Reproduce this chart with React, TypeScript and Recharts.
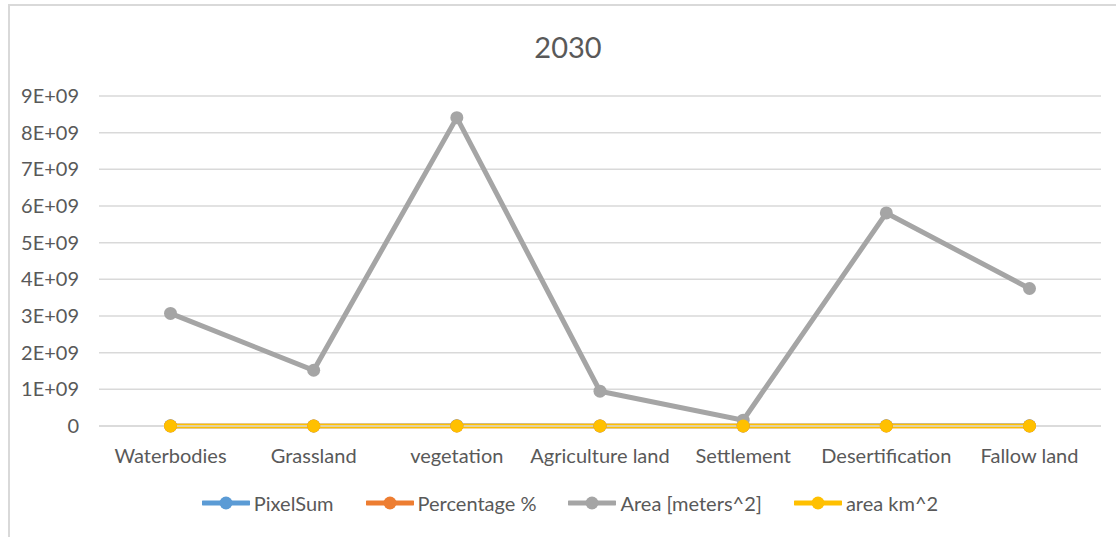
import React from "react";
import { LineChart, Line, XAxis, YAxis, CartesianGrid, Legend } from "recharts";

// Land-cover classes projected for 2030
const categories = [
  "Waterbodies",
  "Grassland",
  "vegetation",
  "Agriculture land",
  "Settlement",
  "Desertification",
  "Fallow land",
];

const pixelSum = [3411111, 1688889, 9344444, 1055556, 177778, 6455556, 4166667];
const percentage = [12.97, 6.42, 35.53, 4.01, 0.68, 24.55, 15.84];
const areaM2 = [3.07e9, 1.52e9, 8.41e9, 0.95e9, 0.16e9, 5.81e9, 3.75e9];
const areaKm2 = [3070, 1520, 8410, 950, 160, 5810, 3750];

const yTicks = [0, 1e9, 2e9, 3e9, 4e9, 5e9, 6e9, 7e9, 8e9, 9e9];

const seriesDefs = [
  { key: "PixelSum", name: "PixelSum", color: "#5B9BD5" },
  { key: "Percentage", name: "Percentage %", color: "#ED7D31" },
  { key: "Area", name: "Area [meters^2]", color: "#A5A5A5" },
  { key: "AreaKm", name: "area km^2", color: "#FFC000" },
];

const data = categories.map((c, i) => ({
  category: c,
  PixelSum: pixelSum[i],
  Percentage: percentage[i],
  Area: areaM2[i],
  AreaKm: areaKm2[i],
}));

const FONT = "Lato, 'Open Sans', sans-serif";
const TEXT = "#595959";
const TICK_SIZE = 20;

const formatSci = (v: number) => {
  if (v === 0) return "0";
  const exp = Math.floor(Math.log10(v));
  const mant = Math.round(v / Math.pow(10, exp));
  return `${mant}E+${String(exp).padStart(2, "0")}`;
};

const LegendContent = () => (
  <div
    style={{
      display: "flex",
      justifyContent: "center",
      alignItems: "center",
      gap: 32,
      fontFamily: FONT,
      fontSize: TICK_SIZE,
      color: TEXT,
      paddingLeft: 24,
    }}
  >
    {seriesDefs.map((s) => (
      <div key={s.key} style={{ display: "flex", alignItems: "center" }}>
        <svg width={48} height={16} style={{ marginRight: 4 }}>
          <line x1={1} y1={8} x2={47} y2={8} stroke={s.color} strokeWidth={5} strokeLinecap="round" />
          <circle cx={24} cy={8} r={6.5} fill={s.color} />
        </svg>
        <span>{s.name}</span>
      </div>
    ))}
  </div>
);

export default function App() {
  return (
    <div
      style={{
        position: "fixed",
        left: 0,
        top: 0,
        width: 1116,
        height: 537,
        background: "#ffffff",
        overflow: "hidden",
      }}
    >
      <div
        style={{
          position: "absolute",
          left: 8,
          top: 4,
          width: 1200,
          height: 600,
          borderLeft: "2px solid #d9d9d9",
          borderTop: "2px solid #d9d9d9",
        }}
      />
      <div
        style={{
          position: "absolute",
          left: 0,
          top: 29,
          width: 1136,
          textAlign: "center",
          fontFamily: FONT,
          fontSize: 29,
          color: TEXT,
        }}
      >
        2030
      </div>
      <LineChart
        width={1116}
        height={537}
        data={data}
        margin={{ top: 96, right: 15, left: 0, bottom: 57 }}
        style={{ position: "absolute", left: 0, top: 0 }}
      >
        <CartesianGrid vertical={false} stroke="#d9d9d9" strokeWidth={1.5} />
        <XAxis
          dataKey="category"
          height={30}
          padding={{ left: 71.5, right: 71.5 }}
          tickLine={false}
          axisLine={{ stroke: "#d9d9d9", strokeWidth: 1.5 }}
          tickMargin={17}
          tick={{ fill: TEXT, fontSize: TICK_SIZE, fontFamily: FONT }}
          interval={0}
        />
        <YAxis
          width={99}
          domain={[0, 9e9]}
          ticks={yTicks}
          tickFormatter={formatSci}
          tickLine={false}
          axisLine={false}
          tickMargin={14}
          tick={{ fill: TEXT, fontSize: TICK_SIZE, fontFamily: FONT }}
          interval={0}
        />
        <Legend
          content={<LegendContent />}
          wrapperStyle={{ position: "absolute", left: 0, top: 491, width: 1116 }}
        />
        {seriesDefs.map((s) => (
          <Line
            key={s.key}
            type="linear"
            dataKey={s.key}
            name={s.name}
            stroke={s.color}
            strokeWidth={s.key === "Area" ? 5 : 4.5}
            dot={{ r: 6.5, fill: s.color, stroke: s.color, strokeWidth: 0 }}
            activeDot={false}
            isAnimationActive={false}
          />
        ))}
      </LineChart>
    </div>
  );
}
